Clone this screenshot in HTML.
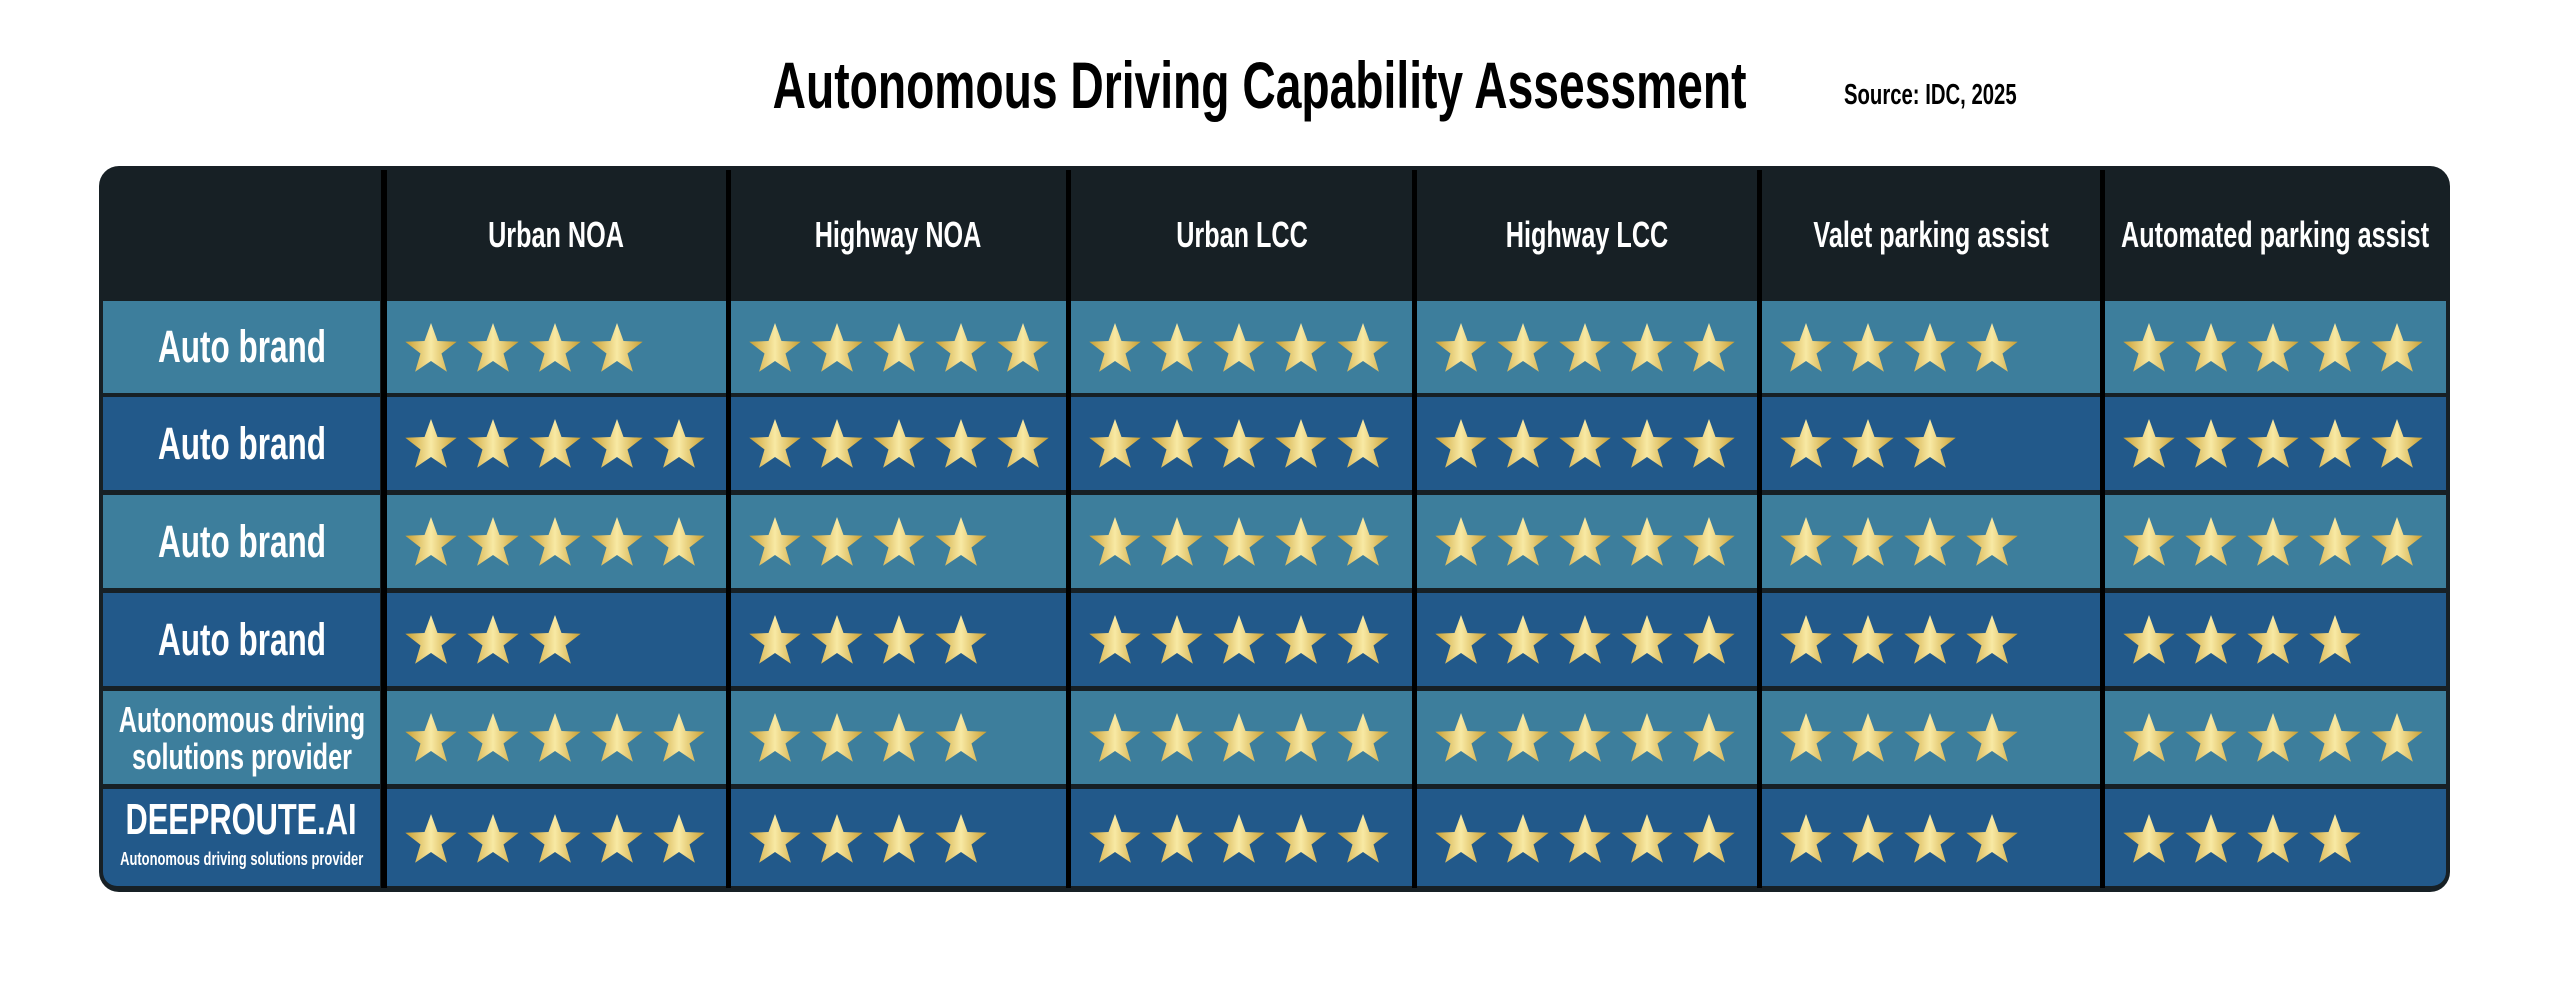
<!DOCTYPE html>
<html><head><meta charset="utf-8"><style>
*{margin:0;padding:0;box-sizing:border-box}
body{width:2560px;height:986px;background:#fff;position:relative;overflow:hidden;font-family:"Liberation Sans",sans-serif;font-weight:bold}
.t{position:absolute;display:flex;align-items:center;justify-content:center;color:#fff;text-align:center;white-space:nowrap}
.t span{display:inline-block;transform:scaleX(0.7)}
.c{position:absolute}
.L{background:#3d7e9c}.D{background:#22598a}
</style></head><body>
<div class="t" style="left:560px;top:45px;width:1400px;height:80px;color:#000;font-size:66px"><span>Autonomous Driving Capability Assessment</span></div>
<div class="t" style="left:1780px;top:78px;width:300px;height:34px;color:#000;font-size:29px"><span>Source: IDC, 2025</span></div>
<div class="c" style="left:99px;top:166px;width:2351px;height:726px;background:#172025;border-radius:20px"></div>
<div class="c" style="left:381px;top:170px;width:6px;height:718px;background:#000"></div>
<div class="c" style="left:726px;top:170px;width:5px;height:718px;background:#000"></div>
<div class="c" style="left:1066px;top:170px;width:5px;height:718px;background:#000"></div>
<div class="c" style="left:1412px;top:170px;width:5px;height:718px;background:#000"></div>
<div class="c" style="left:1757px;top:170px;width:5px;height:718px;background:#000"></div>
<div class="c" style="left:2100px;top:170px;width:5px;height:718px;background:#000"></div>
<div class="t" style="left:387px;top:200px;width:339px;height:70px;font-size:36px"><span>Urban NOA</span></div>
<div class="t" style="left:731px;top:200px;width:335px;height:70px;font-size:36px"><span>Highway NOA</span></div>
<div class="t" style="left:1071px;top:200px;width:341px;height:70px;font-size:36px"><span>Urban LCC</span></div>
<div class="t" style="left:1417px;top:200px;width:340px;height:70px;font-size:36px"><span>Highway LCC</span></div>
<div class="t" style="left:1762px;top:200px;width:338px;height:70px;font-size:36px"><span>Valet parking assist</span></div>
<div class="t" style="left:2105px;top:200px;width:341px;height:70px;font-size:36px"><span>Automated parking assist</span></div>

<div class="c L" style="left:103px;top:301px;width:277px;height:92px"></div>
<div class="c L" style="left:387px;top:301px;width:339px;height:92px"></div>
<div class="c L" style="left:731px;top:301px;width:335px;height:92px"></div>
<div class="c L" style="left:1071px;top:301px;width:341px;height:92px"></div>
<div class="c L" style="left:1417px;top:301px;width:340px;height:92px"></div>
<div class="c L" style="left:1762px;top:301px;width:338px;height:92px"></div>
<div class="c L" style="left:2105px;top:301px;width:341px;height:92px"></div>

<div class="c D" style="left:103px;top:397px;width:277px;height:93px"></div>
<div class="c D" style="left:387px;top:397px;width:339px;height:93px"></div>
<div class="c D" style="left:731px;top:397px;width:335px;height:93px"></div>
<div class="c D" style="left:1071px;top:397px;width:341px;height:93px"></div>
<div class="c D" style="left:1417px;top:397px;width:340px;height:93px"></div>
<div class="c D" style="left:1762px;top:397px;width:338px;height:93px"></div>
<div class="c D" style="left:2105px;top:397px;width:341px;height:93px"></div>

<div class="c L" style="left:103px;top:495px;width:277px;height:93px"></div>
<div class="c L" style="left:387px;top:495px;width:339px;height:93px"></div>
<div class="c L" style="left:731px;top:495px;width:335px;height:93px"></div>
<div class="c L" style="left:1071px;top:495px;width:341px;height:93px"></div>
<div class="c L" style="left:1417px;top:495px;width:340px;height:93px"></div>
<div class="c L" style="left:1762px;top:495px;width:338px;height:93px"></div>
<div class="c L" style="left:2105px;top:495px;width:341px;height:93px"></div>

<div class="c D" style="left:103px;top:593px;width:277px;height:93px"></div>
<div class="c D" style="left:387px;top:593px;width:339px;height:93px"></div>
<div class="c D" style="left:731px;top:593px;width:335px;height:93px"></div>
<div class="c D" style="left:1071px;top:593px;width:341px;height:93px"></div>
<div class="c D" style="left:1417px;top:593px;width:340px;height:93px"></div>
<div class="c D" style="left:1762px;top:593px;width:338px;height:93px"></div>
<div class="c D" style="left:2105px;top:593px;width:341px;height:93px"></div>

<div class="c L" style="left:103px;top:691px;width:277px;height:93px"></div>
<div class="c L" style="left:387px;top:691px;width:339px;height:93px"></div>
<div class="c L" style="left:731px;top:691px;width:335px;height:93px"></div>
<div class="c L" style="left:1071px;top:691px;width:341px;height:93px"></div>
<div class="c L" style="left:1417px;top:691px;width:340px;height:93px"></div>
<div class="c L" style="left:1762px;top:691px;width:338px;height:93px"></div>
<div class="c L" style="left:2105px;top:691px;width:341px;height:93px"></div>

<div class="c D" style="left:103px;top:789px;width:277px;height:97px;border-bottom-left-radius:14px"></div>
<div class="c D" style="left:387px;top:789px;width:339px;height:97px"></div>
<div class="c D" style="left:731px;top:789px;width:335px;height:97px"></div>
<div class="c D" style="left:1071px;top:789px;width:341px;height:97px"></div>
<div class="c D" style="left:1417px;top:789px;width:340px;height:97px"></div>
<div class="c D" style="left:1762px;top:789px;width:338px;height:97px"></div>
<div class="c D" style="left:2105px;top:789px;width:341px;height:97px;border-bottom-right-radius:14px"></div>

<div class="t" style="left:93px;top:301px;width:297px;height:92px;font-size:45px"><span>Auto brand</span></div>
<div class="t" style="left:93px;top:397px;width:297px;height:93px;font-size:45px"><span>Auto brand</span></div>
<div class="t" style="left:93px;top:495px;width:297px;height:93px;font-size:45px"><span>Auto brand</span></div>
<div class="t" style="left:93px;top:593px;width:297px;height:93px;font-size:45px"><span>Auto brand</span></div>
<div class="t" style="left:83px;top:691px;width:317px;height:93px;font-size:36px;line-height:37px"><span>Autonomous driving<br>solutions provider</span></div>
<div class="t" style="left:93px;top:795px;width:297px;height:50px;font-size:44px"><span>DEEPROUTE.AI</span></div>
<div class="t" style="left:83px;top:848px;width:317px;height:22px;font-size:18.5px"><span>Autonomous driving solutions provider</span></div>

<svg class="c" style="left:0;top:0" width="2560" height="986" viewBox="0 0 2560 986">
<defs>
<linearGradient id="g" x1="0" x2="1" y1="0" y2="0">
<stop offset="0" stop-color="#c99f32"/><stop offset="0.5" stop-color="#f8e9a4"/><stop offset="1" stop-color="#c99f32"/></linearGradient>
<path id="s" fill="url(#g)" d="M0,-27 L6.5,-9 L25.7,-8.3 L10.5,3.5 L15.9,21.8 L0,11 L-15.9,21.8 L-10.5,3.5 L-25.7,-8.3 L-6.5,-9Z"/>
</defs>
<g transform="translate(0,350)">
<use href="#s" x="431"/><use href="#s" x="493"/><use href="#s" x="555"/><use href="#s" x="617"/>
<use href="#s" x="775"/><use href="#s" x="837"/><use href="#s" x="899"/><use href="#s" x="961"/><use href="#s" x="1023"/>
<use href="#s" x="1115"/><use href="#s" x="1177"/><use href="#s" x="1239"/><use href="#s" x="1301"/><use href="#s" x="1363"/>
<use href="#s" x="1461"/><use href="#s" x="1523"/><use href="#s" x="1585"/><use href="#s" x="1647"/><use href="#s" x="1709"/>
<use href="#s" x="1806"/><use href="#s" x="1868"/><use href="#s" x="1930"/><use href="#s" x="1992"/>
<use href="#s" x="2149"/><use href="#s" x="2211"/><use href="#s" x="2273"/><use href="#s" x="2335"/><use href="#s" x="2397"/>
</g>
<g transform="translate(0,446)">
<use href="#s" x="431"/><use href="#s" x="493"/><use href="#s" x="555"/><use href="#s" x="617"/><use href="#s" x="679"/>
<use href="#s" x="775"/><use href="#s" x="837"/><use href="#s" x="899"/><use href="#s" x="961"/><use href="#s" x="1023"/>
<use href="#s" x="1115"/><use href="#s" x="1177"/><use href="#s" x="1239"/><use href="#s" x="1301"/><use href="#s" x="1363"/>
<use href="#s" x="1461"/><use href="#s" x="1523"/><use href="#s" x="1585"/><use href="#s" x="1647"/><use href="#s" x="1709"/>
<use href="#s" x="1806"/><use href="#s" x="1868"/><use href="#s" x="1930"/>
<use href="#s" x="2149"/><use href="#s" x="2211"/><use href="#s" x="2273"/><use href="#s" x="2335"/><use href="#s" x="2397"/>
</g>
<g transform="translate(0,544)">
<use href="#s" x="431"/><use href="#s" x="493"/><use href="#s" x="555"/><use href="#s" x="617"/><use href="#s" x="679"/>
<use href="#s" x="775"/><use href="#s" x="837"/><use href="#s" x="899"/><use href="#s" x="961"/>
<use href="#s" x="1115"/><use href="#s" x="1177"/><use href="#s" x="1239"/><use href="#s" x="1301"/><use href="#s" x="1363"/>
<use href="#s" x="1461"/><use href="#s" x="1523"/><use href="#s" x="1585"/><use href="#s" x="1647"/><use href="#s" x="1709"/>
<use href="#s" x="1806"/><use href="#s" x="1868"/><use href="#s" x="1930"/><use href="#s" x="1992"/>
<use href="#s" x="2149"/><use href="#s" x="2211"/><use href="#s" x="2273"/><use href="#s" x="2335"/><use href="#s" x="2397"/>
</g>
<g transform="translate(0,642)">
<use href="#s" x="431"/><use href="#s" x="493"/><use href="#s" x="555"/>
<use href="#s" x="775"/><use href="#s" x="837"/><use href="#s" x="899"/><use href="#s" x="961"/>
<use href="#s" x="1115"/><use href="#s" x="1177"/><use href="#s" x="1239"/><use href="#s" x="1301"/><use href="#s" x="1363"/>
<use href="#s" x="1461"/><use href="#s" x="1523"/><use href="#s" x="1585"/><use href="#s" x="1647"/><use href="#s" x="1709"/>
<use href="#s" x="1806"/><use href="#s" x="1868"/><use href="#s" x="1930"/><use href="#s" x="1992"/>
<use href="#s" x="2149"/><use href="#s" x="2211"/><use href="#s" x="2273"/><use href="#s" x="2335"/>
</g>
<g transform="translate(0,740)">
<use href="#s" x="431"/><use href="#s" x="493"/><use href="#s" x="555"/><use href="#s" x="617"/><use href="#s" x="679"/>
<use href="#s" x="775"/><use href="#s" x="837"/><use href="#s" x="899"/><use href="#s" x="961"/>
<use href="#s" x="1115"/><use href="#s" x="1177"/><use href="#s" x="1239"/><use href="#s" x="1301"/><use href="#s" x="1363"/>
<use href="#s" x="1461"/><use href="#s" x="1523"/><use href="#s" x="1585"/><use href="#s" x="1647"/><use href="#s" x="1709"/>
<use href="#s" x="1806"/><use href="#s" x="1868"/><use href="#s" x="1930"/><use href="#s" x="1992"/>
<use href="#s" x="2149"/><use href="#s" x="2211"/><use href="#s" x="2273"/><use href="#s" x="2335"/><use href="#s" x="2397"/>
</g>
<g transform="translate(0,841)">
<use href="#s" x="431"/><use href="#s" x="493"/><use href="#s" x="555"/><use href="#s" x="617"/><use href="#s" x="679"/>
<use href="#s" x="775"/><use href="#s" x="837"/><use href="#s" x="899"/><use href="#s" x="961"/>
<use href="#s" x="1115"/><use href="#s" x="1177"/><use href="#s" x="1239"/><use href="#s" x="1301"/><use href="#s" x="1363"/>
<use href="#s" x="1461"/><use href="#s" x="1523"/><use href="#s" x="1585"/><use href="#s" x="1647"/><use href="#s" x="1709"/>
<use href="#s" x="1806"/><use href="#s" x="1868"/><use href="#s" x="1930"/><use href="#s" x="1992"/>
<use href="#s" x="2149"/><use href="#s" x="2211"/><use href="#s" x="2273"/><use href="#s" x="2335"/>
</g>
</svg>
</body></html>
